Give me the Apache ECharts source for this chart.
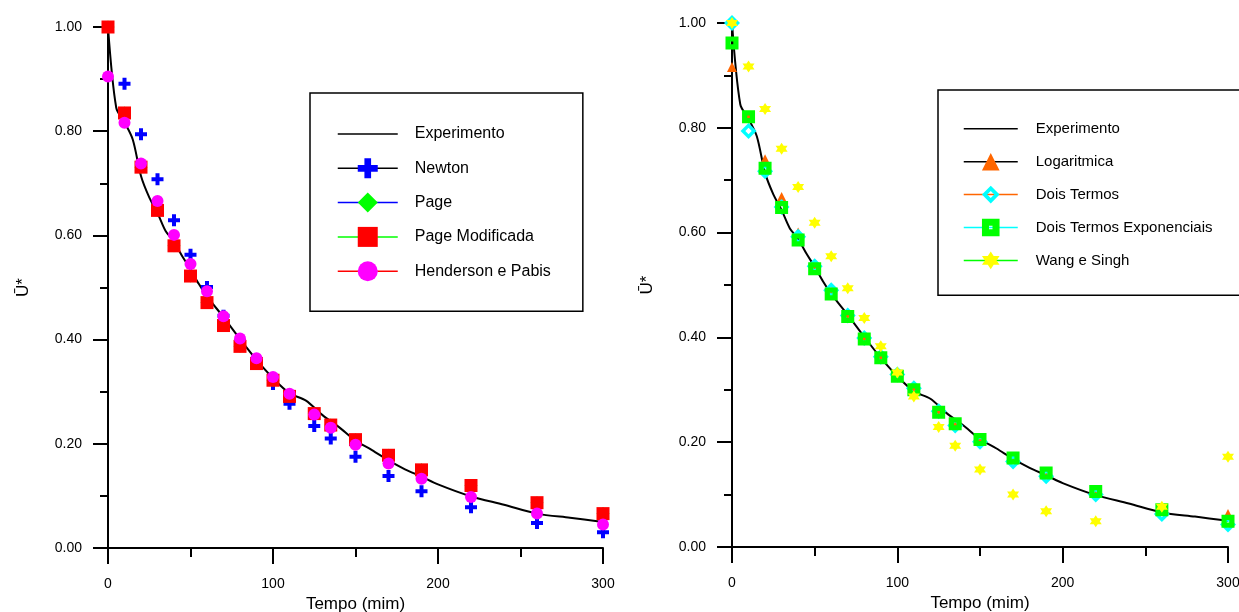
<!DOCTYPE html>
<html>
<head>
<meta charset="utf-8">
<script src="https://cdn.jsdelivr.net/npm/echarts@6/dist/echarts.min.js"></script>
<style>
  html, body { margin: 0; padding: 0; background: #fff; }
  #chart { width: 1239px; height: 612px; }
</style>
</head>
<body>
<div id="chart"></div>
<script>
// tempos (min) dos modelos e do experimento
var tempo = [0, 10, 20, 30, 40, 50, 60, 70, 80, 90, 100, 110, 125, 135, 150, 170, 190, 220, 260, 300];
var tempoExp = [0, 5, 10, 15, 20, 25, 30, 35, 40, 45, 50, 55, 60, 70, 80, 90, 100, 110, 120, 130, 140, 150, 160, 170, 180, 190, 200, 220, 240, 260, 280, 300];
var experimento = [1.000, 0.845, 0.817, 0.784, 0.714, 0.673, 0.643, 0.608, 0.588, 0.560, 0.535, 0.507, 0.483, 0.443, 0.401, 0.361, 0.326, 0.297, 0.283, 0.255, 0.232, 0.206, 0.188, 0.168, 0.151, 0.137, 0.122, 0.099, 0.083, 0.066, 0.058, 0.050];

// painel esquerdo
var newton = [1.000, 0.891, 0.794, 0.708, 0.629, 0.563, 0.501, 0.446, 0.397, 0.354, 0.315, 0.277, 0.234, 0.210, 0.175, 0.138, 0.109, 0.078, 0.048, 0.030];
var page = [1.000, 0.835, 0.731, 0.648, 0.580, 0.522, 0.471, 0.427, 0.387, 0.354, 0.322, 0.291, 0.258, 0.236, 0.208, 0.178, 0.150, 0.120, 0.087, 0.066];
var pageMod = [1.000, 0.835, 0.731, 0.648, 0.580, 0.522, 0.471, 0.427, 0.387, 0.354, 0.322, 0.291, 0.258, 0.236, 0.208, 0.178, 0.150, 0.120, 0.087, 0.066];
var henderson = [0.905, 0.816, 0.738, 0.666, 0.601, 0.545, 0.493, 0.445, 0.402, 0.364, 0.328, 0.296, 0.256, 0.231, 0.198, 0.162, 0.133, 0.098, 0.066, 0.045];

// painel direito
var logaritmica = [0.916, 0.820, 0.740, 0.668, 0.600, 0.540, 0.487, 0.441, 0.398, 0.362, 0.327, 0.300, 0.258, 0.235, 0.205, 0.170, 0.141, 0.106, 0.072, 0.063];
var doisTermos = [1.000, 0.794, 0.717, 0.649, 0.592, 0.536, 0.490, 0.442, 0.399, 0.363, 0.329, 0.303, 0.259, 0.232, 0.201, 0.163, 0.135, 0.100, 0.063, 0.043];
var doisTermosExp = [0.962, 0.821, 0.723, 0.648, 0.586, 0.531, 0.483, 0.440, 0.397, 0.361, 0.326, 0.300, 0.257, 0.235, 0.205, 0.170, 0.141, 0.106, 0.071, 0.049];
var wangSingh = [1.000, 0.917, 0.836, 0.760, 0.687, 0.619, 0.555, 0.494, 0.437, 0.383, 0.333, 0.287, 0.229, 0.193, 0.148, 0.100, 0.068, 0.049, 0.077, 0.172];

var xTicks = [0, 100, 200, 300];
var yTicks = [0, 0.2, 0.4, 0.6, 0.8, 1.0];

var FONT = '"Liberation Sans", Arial, sans-serif';

// simbolos
var CROSS = 'path://M1,0H2V1H3V2H2V3H1V2H0V1H1Z';
var STAR6 = 'path://M0,-1L0.2887,-0.5L0.866,-0.5L0.577,0L0.866,0.5L0.2887,0.5L0,1L-0.2887,0.5L-0.866,0.5L-0.577,0L-0.866,-0.5L-0.2887,-0.5Z';
var DIAMOND_HOLLOW = 'path://M5,0L10,5L5,10L0,5Z M5,3L3,5L5,7L7,5Z';
var SQUARE_HOLLOW = 'path://M0,0H10V10H0Z M4,4V6H6V4Z';

function zip(xs, ys) {
  return xs.map(function (x, i) { return [x, ys[i]]; });
}

var chart = echarts.init(document.getElementById('chart'));

function xAxisOf(gi) {
  return {
    gridIndex: gi, type: 'value', min: xTicks[0], max: xTicks[xTicks.length - 1], interval: 100,
    name: 'Tempo (mim)', nameLocation: 'middle', nameGap: 44,
    nameTextStyle: { fontSize: 17, color: '#000', fontFamily: FONT },
    axisLine: { onZero: false, lineStyle: { color: '#000', width: 2 } },
    axisTick: { length: 16, lineStyle: { color: '#000', width: 2 } },
    minorTick: { show: true, splitNumber: 2, length: 9, lineStyle: { color: '#000', width: 2 } },
    axisLabel: { margin: 29, fontSize: 14, color: '#000', fontFamily: FONT },
    splitLine: { show: false }
  };
}
function yAxisOf(gi) {
  return {
    gridIndex: gi, type: 'value', min: yTicks[0], max: yTicks[yTicks.length - 1], interval: 0.2,
    name: 'Ū*', nameLocation: 'middle', nameGap: 76, nameRotate: 90,
    nameTextStyle: { fontSize: 17, color: '#000', fontFamily: FONT },
    axisLine: { onZero: false, lineStyle: { color: '#000', width: 2 } },
    axisTick: { length: 15, lineStyle: { color: '#000', width: 2 } },
    minorTick: { show: true, splitNumber: 2, length: 8, lineStyle: { color: '#000', width: 2 } },
    axisLabel: { margin: 26, fontSize: 14, color: '#000', fontFamily: FONT,
      formatter: function (v) { return v.toFixed(2); } },
    splitLine: { show: false }
  };
}

function pontos(name, gi, ys, symbol, size, color) {
  return {
    name: name, type: 'line', xAxisIndex: gi, yAxisIndex: gi,
    data: zip(tempo, ys), symbol: symbol, symbolSize: size, showSymbol: true, showAllSymbol: true,
    itemStyle: { color: color, borderWidth: 0 },
    lineStyle: { opacity: 0, width: 0 },
    emphasis: { disabled: true }
  };
}
function curvaExp(gi, name) {
  return {
    name: name, type: 'line', xAxisIndex: gi, yAxisIndex: gi,
    data: zip(tempoExp, experimento), symbol: 'none', smooth: 0.3,
    itemStyle: { color: '#000' },
    lineStyle: { color: '#000', width: 2 },
    emphasis: { disabled: true }
  };
}
function itemLegenda(name, lineColor, hideSymbol) {
  var it = { name: name, lineStyle: { color: lineColor, width: 1.5, opacity: 1, type: 'solid' } };
  if (hideSymbol) it.itemStyle = { opacity: 0 };
  return it;
}

var option = {
  animation: false,
  backgroundColor: '#fff',
  grid: [
    { left: 108, right: 636, top: 27, bottom: 64, outerBoundsMode: 'none', containLabel: false },
    { left: 732, right: 11, top: 23, bottom: 65, outerBoundsMode: 'none', containLabel: false }
  ],
  xAxis: [xAxisOf(0), xAxisOf(1)],
  yAxis: [yAxisOf(0), yAxisOf(1)],
  legend: [
    {
      orient: 'vertical', left: 310, top: 93, selectedMode: false,
      itemWidth: 60, itemHeight: 25, itemGap: 14.3,
      padding: [31, 32, 30, 27],
      borderColor: '#000', borderWidth: 1.5, backgroundColor: '#fff',
      textStyle: { fontSize: 16, color: '#000', fontFamily: FONT, padding: [0, 0, 0, 12] },
      data: [
        itemLegenda('Experimento', '#000', true),
        itemLegenda('Newton', '#000'),
        itemLegenda('Page', '#0000FF'),
        itemLegenda('Page Modificada', '#00FF00'),
        itemLegenda('Henderson e Pabis', '#FF0000')
      ]
    },
    {
      orient: 'vertical', left: 938, top: 90, selectedMode: false,
      itemWidth: 54, itemHeight: 22, itemGap: 15.3,
      padding: [30, 40, 26, 25],
      borderColor: '#000', borderWidth: 1.5, backgroundColor: '#fff',
      textStyle: { fontSize: 15, color: '#000', fontFamily: FONT, padding: [0, 0, 0, 13] },
      data: [
        itemLegenda('Experimento ', '#000', true),
        itemLegenda('Logaritmica', '#000'),
        itemLegenda('Dois Termos', '#FF6600'),
        itemLegenda('Dois Termos Exponenciais', '#00FFFF'),
        itemLegenda('Wang e Singh', '#00FF00')
      ]
    }
  ],
  series: [
    curvaExp(0, 'Experimento'),
    pontos('Newton', 0, newton, CROSS, 12, '#0000FF'),
    pontos('Page', 0, page, 'diamond', 13, '#00FF00'),
    pontos('Page Modificada', 0, pageMod, 'rect', 13, '#FF0000'),
    pontos('Henderson e Pabis', 0, henderson, 'circle', 12, '#FF00FF'),
    curvaExp(1, 'Experimento '),
    pontos('Logaritmica', 1, logaritmica, 'triangle', 10, '#FF6600'),
    pontos('Dois Termos', 1, doisTermos, DIAMOND_HOLLOW, 16, '#00FFFF'),
    pontos('Dois Termos Exponenciais', 1, doisTermosExp, SQUARE_HOLLOW, 13, '#00FF00'),
    pontos('Wang e Singh', 1, wangSingh, STAR6, 12, '#FFFF00')
  ]
};
chart.setOption(option);
</script>
</body>
</html>
